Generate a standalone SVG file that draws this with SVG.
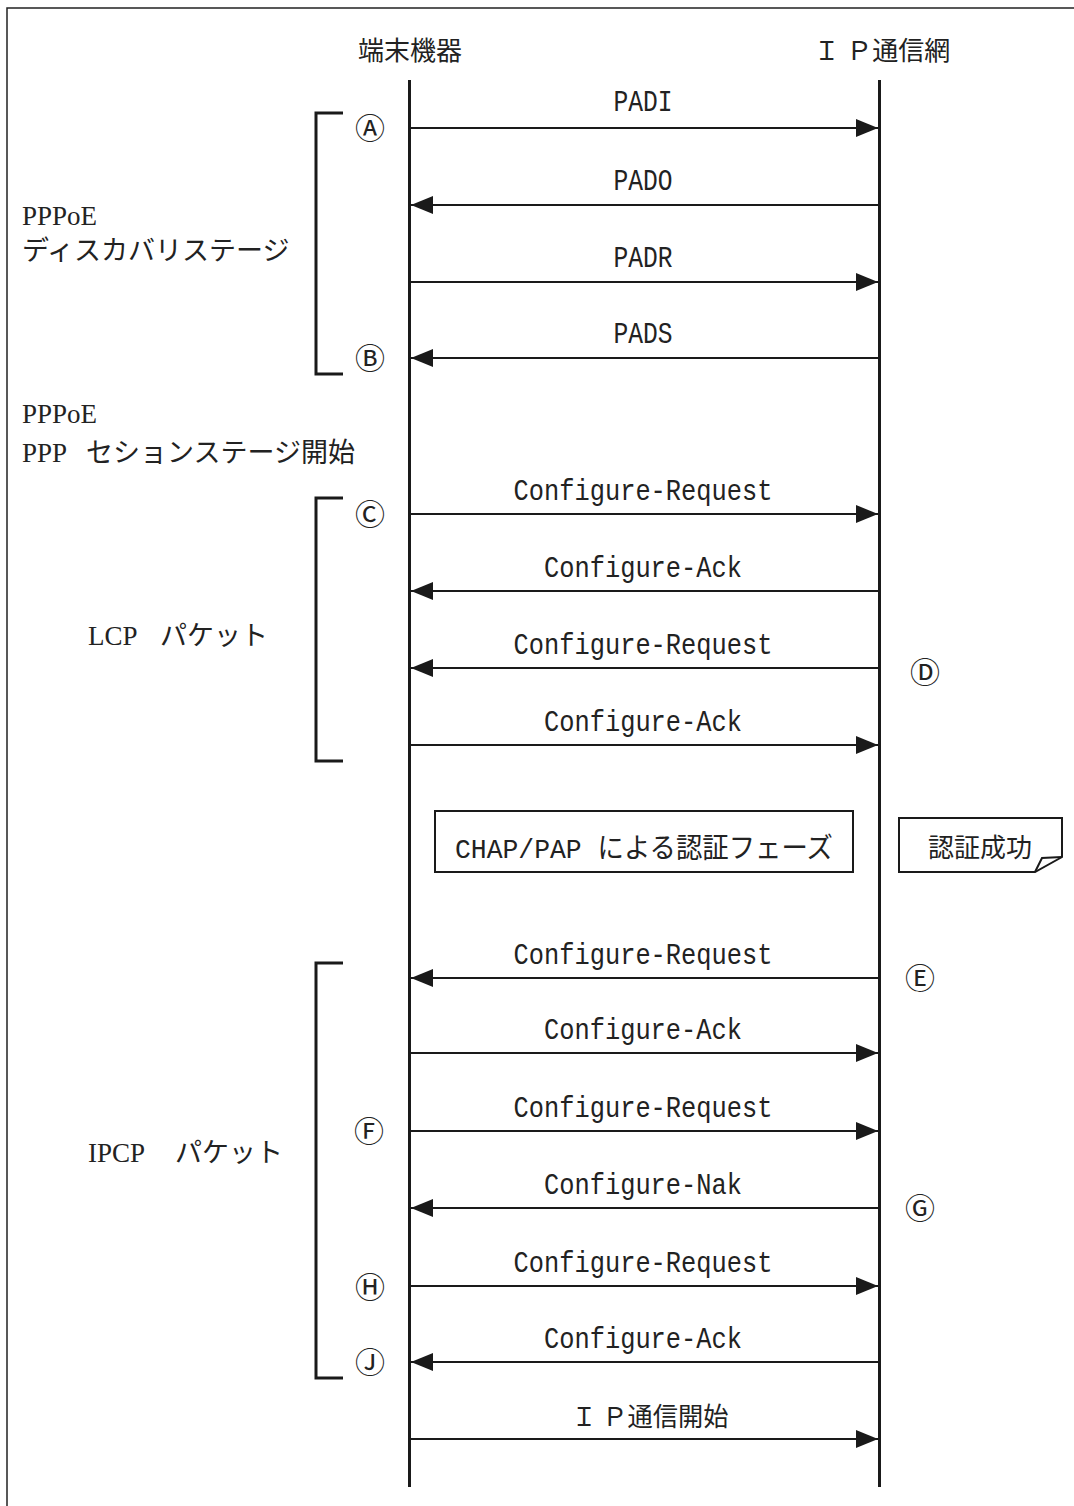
<svg xmlns="http://www.w3.org/2000/svg" width="1074" height="1506" viewBox="0 0 1074 1506">
<style>
.frame{fill:none;stroke:#222;stroke-width:1.5}
.life{stroke:#1a1a1a;stroke-width:3}
.msg{stroke:#1a1a1a;stroke-width:2.2;fill:none}
.br{fill:none;stroke:#1a1a1a;stroke-width:3}
.box{fill:#fff;stroke:#1a1a1a;stroke-width:2}
.hdr{font-family:"Liberation Serif","Noto Sans CJK JP",serif;font-size:26px;fill:#222}
.lbl{font-family:"Liberation Serif","Noto Sans CJK JP",serif;font-size:27px;fill:#222}
.m{font-family:"Liberation Mono","Noto Sans CJK JP",monospace;font-size:29px;fill:#222;text-anchor:middle}
.cj{font-family:"Noto Sans CJK JP",sans-serif;font-size:26px;fill:#222}
.cir{font-family:"Noto Sans CJK JP","DejaVu Sans",sans-serif;font-size:30px;fill:#222;text-anchor:middle}
</style>
<defs>
<marker id="ah" viewBox="0 0 22 18" refX="22" refY="9" markerWidth="22" markerHeight="18" markerUnits="userSpaceOnUse" orient="auto">
<path d="M0,0 L22,9 L0,18 Z" fill="#1a1a1a"/>
</marker>
</defs>
<rect class="frame" x="7" y="8" width="1090" height="1520"/>

<g id="lifeline-terminal">
<text class="hdr" x="410" y="60" text-anchor="middle">端末機器</text>
<line class="life" x1="409.5" y1="80" x2="409.5" y2="1487"/>
</g>
<g id="lifeline-network">
<text class="hdr" x="882" y="60" text-anchor="middle">Ｉ Ｐ通信網</text>
<line class="life" x1="879.5" y1="80" x2="879.5" y2="1487"/>
</g>

<g id="bracket-discovery">
<path class="br" d="M343,113 H316 V374 H343"/>
<text class="lbl" x="22" y="225">PPPoE</text>
<text class="lbl" x="22" y="260">ディスカバリステージ</text>
</g>
<g id="label-session">
<text class="lbl" x="22" y="423">PPPoE</text>
<text class="lbl" x="22" y="462">PPP<tspan x="86">セションステージ開始</tspan></text>
</g>
<g id="bracket-lcp">
<path class="br" d="M343,498 H316 V761 H343"/>
<text class="lbl" x="88" y="645">LCP<tspan x="160">パケット</tspan></text>
</g>
<g id="bracket-ipcp">
<path class="br" d="M343,963 H316 V1378 H343"/>
<text class="lbl" x="88" y="1162">IPCP<tspan x="175">パケット</tspan></text>
</g>

<g id="auth-phase">
<rect class="box" x="435" y="811" width="418" height="61"/>
<text x="644" y="858" text-anchor="middle" textLength="378" lengthAdjust="spacingAndGlyphs" style="font-family:'Liberation Mono','Noto Sans CJK JP',monospace;font-size:28px;fill:#222">CHAP/PAP による認証フェーズ</text>
</g>
<g id="auth-success">
<path class="box" d="M899,818 H1062 V857 L1035,872 H899 Z"/>
<path fill="none" stroke="#1a1a1a" stroke-width="2" d="M1035,872 L1042,858 L1062,857"/>
<text class="cj" x="980" y="857" text-anchor="middle">認証成功</text>
</g>

<g id="markers">
<text class="cir" x="370" y="139">Ⓐ</text>
<text class="cir" x="370" y="369">Ⓑ</text>
<text class="cir" x="370" y="525">Ⓒ</text>
<text class="cir" x="925" y="683">Ⓓ</text>
<text class="cir" x="920" y="989">Ⓔ</text>
<text class="cir" x="369" y="1142">Ⓕ</text>
<text class="cir" x="920" y="1219">Ⓖ</text>
<text class="cir" x="370" y="1298">Ⓗ</text>
<text class="cir" x="370" y="1373">Ⓙ</text>
</g>

<g id="connectors">
<line class="msg" x1="411" y1="128" x2="878" y2="128" marker-end="url(#ah)"/>
<text class="m" x="643" y="111" textLength="59" lengthAdjust="spacingAndGlyphs">PADI</text>
<line class="msg" x1="878" y1="205" x2="411" y2="205" marker-end="url(#ah)"/>
<text class="m" x="643" y="190" textLength="59" lengthAdjust="spacingAndGlyphs">PADO</text>
<line class="msg" x1="411" y1="282" x2="878" y2="282" marker-end="url(#ah)"/>
<text class="m" x="643" y="267" textLength="59" lengthAdjust="spacingAndGlyphs">PADR</text>
<line class="msg" x1="878" y1="358" x2="411" y2="358" marker-end="url(#ah)"/>
<text class="m" x="643" y="343" textLength="59" lengthAdjust="spacingAndGlyphs">PADS</text>

<line class="msg" x1="411" y1="514" x2="878" y2="514" marker-end="url(#ah)"/>
<text class="m" x="643" y="500" textLength="259" lengthAdjust="spacingAndGlyphs">Configure-Request</text>
<line class="msg" x1="878" y1="591" x2="411" y2="591" marker-end="url(#ah)"/>
<text class="m" x="643" y="577" textLength="198" lengthAdjust="spacingAndGlyphs">Configure-Ack</text>
<line class="msg" x1="878" y1="668" x2="411" y2="668" marker-end="url(#ah)"/>
<text class="m" x="643" y="654" textLength="259" lengthAdjust="spacingAndGlyphs">Configure-Request</text>
<line class="msg" x1="411" y1="745" x2="878" y2="745" marker-end="url(#ah)"/>
<text class="m" x="643" y="731" textLength="198" lengthAdjust="spacingAndGlyphs">Configure-Ack</text>

<line class="msg" x1="878" y1="978" x2="411" y2="978" marker-end="url(#ah)"/>
<text class="m" x="643" y="964" textLength="259" lengthAdjust="spacingAndGlyphs">Configure-Request</text>
<line class="msg" x1="411" y1="1053" x2="878" y2="1053" marker-end="url(#ah)"/>
<text class="m" x="643" y="1039" textLength="198" lengthAdjust="spacingAndGlyphs">Configure-Ack</text>
<line class="msg" x1="411" y1="1131" x2="878" y2="1131" marker-end="url(#ah)"/>
<text class="m" x="643" y="1117" textLength="259" lengthAdjust="spacingAndGlyphs">Configure-Request</text>
<line class="msg" x1="878" y1="1208" x2="411" y2="1208" marker-end="url(#ah)"/>
<text class="m" x="643" y="1194" textLength="198" lengthAdjust="spacingAndGlyphs">Configure-Nak</text>
<line class="msg" x1="411" y1="1286" x2="878" y2="1286" marker-end="url(#ah)"/>
<text class="m" x="643" y="1272" textLength="259" lengthAdjust="spacingAndGlyphs">Configure-Request</text>
<line class="msg" x1="878" y1="1362" x2="411" y2="1362" marker-end="url(#ah)"/>
<text class="m" x="643" y="1348" textLength="198" lengthAdjust="spacingAndGlyphs">Configure-Ack</text>
<line class="msg" x1="411" y1="1439" x2="878" y2="1439" marker-end="url(#ah)"/>
<text class="m" x="650" y="1426" textLength="157" lengthAdjust="spacingAndGlyphs" style="font-family:'Noto Sans CJK JP',sans-serif;font-size:26px">Ｉ Ｐ通信開始</text>
</g>
</svg>
